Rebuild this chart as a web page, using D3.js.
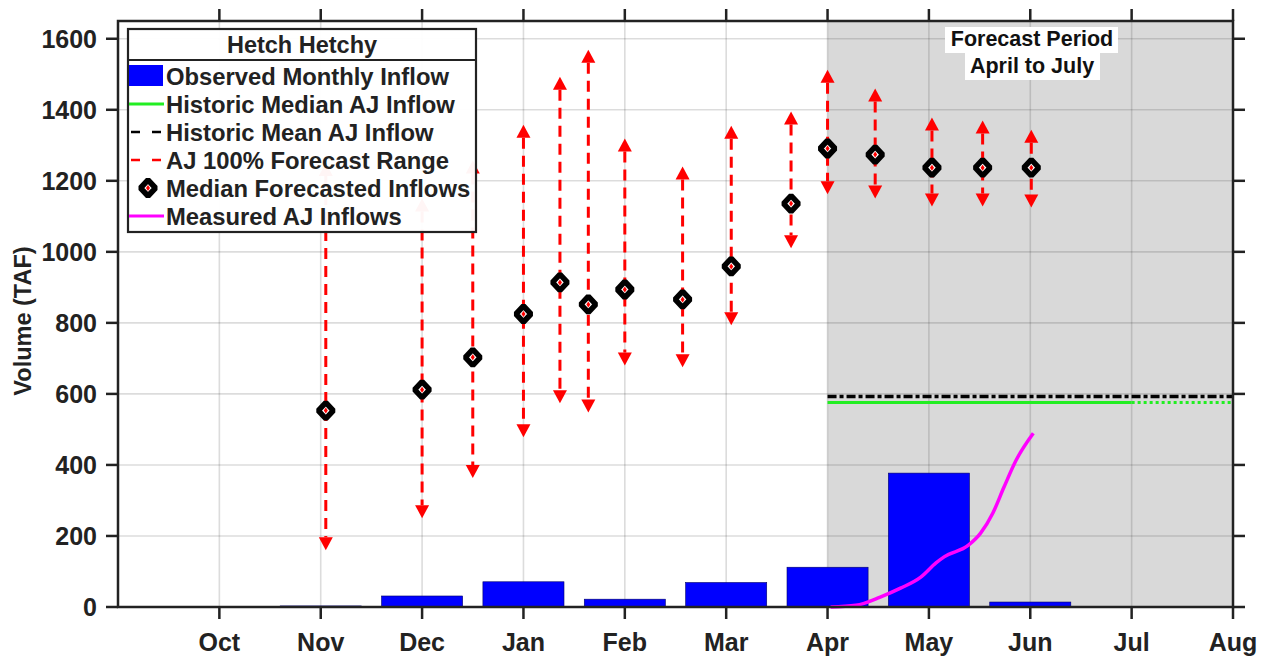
<!DOCTYPE html>
<html>
<head>
<meta charset="utf-8">
<script src="https://cdn.jsdelivr.net/npm/d3@7/dist/d3.min.js"></script>
<style>
  html, body { margin: 0; padding: 0; background: #fff; }
  svg { display: block; font-family: "Liberation Sans", Arial, sans-serif; font-weight: bold; }
</style>
</head>
<body>
<svg id="chart" width="1270" height="662"></svg>
<script>
// ---- Data ----
// month axis: 0 = Sep 1, 1 = Oct 1, ... 11 = Aug 1
const monthLabels = ["Oct","Nov","Dec","Jan","Feb","Mar","Apr","May","Jun","Jul","Aug"];
const yTicks = [0,200,400,600,800,1000,1200,1400,1600];

const barMonths = ["Oct","Nov","Dec","Jan","Feb","Mar","Apr","May","Jun"];
const observedInflow = [0, 3, 31, 71, 22, 69, 112, 377, 14];

// forecast issue time in months since Sep 1
const fcTime   = [2.05, 3.0, 3.5, 4.0, 4.36, 4.64, 5.0, 5.57, 6.05, 6.64, 7.0, 7.47, 8.03, 8.53, 9.01];
const fcMedian = [553, 612, 703, 825, 914, 852, 894, 866, 959, 1136, 1291, 1274, 1237, 1237, 1237];
const fcHigh   = [1250, 1150, 1257, 1358, 1493, 1569, 1319, 1240, 1355, 1395, 1513, 1460, 1378, 1370, 1344];
const fcLow    = [160, 250, 363, 478, 574, 548, 680, 675, 793, 1010, 1162, 1150, 1128, 1128, 1125];

const measuredTime = [7.03, 7.28, 7.52, 7.72, 7.92, 8.07, 8.15, 8.39, 8.51, 8.63, 8.74, 8.86, 9.03];
const measuredAJ   = [0, 5, 28, 53, 84, 124, 141, 174, 208, 264, 337, 413, 489];

const histMedian = 576;
const histMean = 593;
const forecastStart = 7;   // Apr
const forecastEnd = 11;    // Aug
const medianSolidEnd = 10; // Jul

const legendTitle = "Hetch Hetchy";
const legendItems = ["Observed Monthly Inflow","Historic Median AJ Inflow","Historic Mean AJ Inflow","AJ 100% Forecast Range","Median Forecasted Inflows","Measured AJ Inflows"];

// ---- Layout ----
const L = 118, R = 1233, T = 21, B = 607;
const svg = d3.select("#chart");
const x = d3.scaleLinear().domain([0, 11]).range([L, R]);
const y = d3.scaleLinear().domain([0, 1650]).range([B, T]);
const ink = "#222";
const monthIndex = m => monthLabels.indexOf(m) + 1;

// shaded forecast period
svg.append("rect")
  .attr("x", x(forecastStart)).attr("y", T)
  .attr("width", x(forecastEnd) - x(forecastStart)).attr("height", B - T)
  .attr("fill", "#d9d9d9");

// grid
const grid = svg.append("g").attr("stroke", "#262626").attr("stroke-opacity", 0.16).attr("stroke-width", 1.6);
grid.selectAll("line.gy").data(yTicks.slice(1)).join("line")
  .attr("x1", L).attr("x2", R).attr("y1", d => y(d)).attr("y2", d => y(d));
grid.selectAll("line.gx").data(monthLabels.slice(0, -1)).join("line")
  .attr("x1", d => x(monthIndex(d))).attr("x2", d => x(monthIndex(d)))
  .attr("y1", T).attr("y2", B);

// bars
const bw = x(0.8) - x(0);
svg.append("g").selectAll("rect").data(barMonths).join("rect")
  .attr("x", (d) => x(monthIndex(d)) - bw / 2)
  .attr("width", bw)
  .attr("y", (d, i) => y(observedInflow[i]))
  .attr("height", (d, i) => y(0) - y(observedInflow[i]))
  .attr("fill", "#0000ff").attr("stroke", "#00006a").attr("stroke-width", 0.6);

// historic mean (black dash-dot) and median (green)
svg.append("line")
  .attr("x1", x(forecastStart)).attr("x2", x(forecastEnd))
  .attr("y1", y(histMean)).attr("y2", y(histMean))
  .attr("stroke", "#000").attr("stroke-width", 3.5).attr("stroke-dasharray", "9,3,4,3");
svg.append("line")
  .attr("x1", x(forecastStart)).attr("x2", x(medianSolidEnd))
  .attr("y1", y(histMedian)).attr("y2", y(histMedian))
  .attr("stroke", "#22ee22").attr("stroke-width", 3);
svg.append("line")
  .attr("x1", x(medianSolidEnd)).attr("x2", x(forecastEnd))
  .attr("y1", y(histMedian)).attr("y2", y(histMedian))
  .attr("stroke", "#22ee22").attr("stroke-width", 3).attr("stroke-dasharray", "3,3");

// measured AJ inflows
svg.append("path")
  .datum(measuredTime.map((t, i) => [t, measuredAJ[i]]))
  .attr("d", d3.line().x(d => x(d[0])).y(d => y(d[1])).curve(d3.curveMonotoneX))
  .attr("fill", "none").attr("stroke", "#ff00ff").attr("stroke-width", 3.5);

// forecast ranges
const head = 13, hw = 7;
const fg = svg.append("g");
fcTime.forEach((t, i) => {
  const cx = x(t);
  const yh = y(fcHigh[i]), yl = y(fcLow[i]);
  fg.append("line")
    .attr("x1", cx).attr("x2", cx).attr("y1", yh + head).attr("y2", yl - head)
    .attr("stroke", "#ff0000").attr("stroke-width", 3).attr("stroke-dasharray", "11,7");
  fg.append("path")
    .attr("d", `M${cx},${yh} L${cx - hw},${yh + head} L${cx + hw},${yh + head} Z`)
    .attr("fill", "#ff0000");
  fg.append("path")
    .attr("d", `M${cx},${yl} L${cx - hw},${yl - head} L${cx + hw},${yl - head} Z`)
    .attr("fill", "#ff0000");
});

// median markers
function marker(g, cx, cy) {
  g.append("path")
    .attr("d", `M${cx},${cy - 8} L${cx + 7.5},${cy} L${cx},${cy + 8} L${cx - 7.5},${cy} Z`)
    .attr("fill", "#fff").attr("stroke", "#000").attr("stroke-width", 5.5).attr("stroke-linejoin", "bevel");
  g.append("path")
    .attr("d", `M${cx},${cy - 3} L${cx + 2},${cy} L${cx},${cy + 3} L${cx - 2},${cy} Z`)
    .attr("fill", "#ff0000");
}
const mg = svg.append("g");
fcTime.forEach((t, i) => marker(mg, x(t), y(fcMedian[i])));

// axes box and ticks
const ax = svg.append("g").attr("stroke", ink).attr("stroke-width", 2.5);
ax.append("rect").attr("x", L).attr("y", T).attr("width", R - L).attr("height", B - T).attr("fill", "none");
yTicks.forEach(v => {
  ax.append("line").attr("x1", L - 12).attr("x2", L).attr("y1", y(v)).attr("y2", y(v));
  ax.append("line").attr("x1", R).attr("x2", R + 12).attr("y1", y(v)).attr("y2", y(v));
});
monthLabels.forEach(m => {
  const px = x(monthIndex(m));
  ax.append("line").attr("x1", px).attr("x2", px).attr("y1", B).attr("y2", B + 12);
  ax.append("line").attr("x1", px).attr("x2", px).attr("y1", T - 12).attr("y2", T);
});
svg.append("g").selectAll("text").data(yTicks).join("text")
  .attr("x", L - 21).attr("y", d => y(d)).attr("dy", "0.35em")
  .attr("text-anchor", "end").attr("font-size", 25).attr("fill", ink).text(d => d);
svg.append("g").selectAll("text").data(monthLabels).join("text")
  .attr("x", d => x(monthIndex(d))).attr("y", 651)
  .attr("text-anchor", "middle").attr("font-size", 25).attr("fill", ink).text(d => d);
svg.append("text")
  .attr("transform", "translate(31,321) rotate(-90)")
  .attr("text-anchor", "middle").attr("font-size", 23.5).attr("fill", ink).text("Volume (TAF)");

// forecast period annotation
const ann = svg.append("g");
ann.append("rect").attr("x", 945).attr("y", 27).attr("width", 173).attr("height", 26).attr("fill", "#fff");
ann.append("rect").attr("x", 965).attr("y", 52).attr("width", 135).attr("height", 28).attr("fill", "#fff");
ann.append("text").attr("x", 1032).attr("y", 46).attr("text-anchor", "middle").attr("font-size", 21.5).attr("fill", "#111").text("Forecast Period");
ann.append("text").attr("x", 1032).attr("y", 73).attr("text-anchor", "middle").attr("font-size", 21.5).attr("fill", "#111").text("April to July");

// legend
const lg = svg.append("g");
const lx = 128, ly = 29, lw = 348, lh = 203;
lg.append("rect").attr("x", lx).attr("y", ly).attr("width", lw).attr("height", lh)
  .attr("fill", "#fff").attr("fill-opacity", 0.96).attr("stroke", ink).attr("stroke-width", 2.2);
lg.append("line").attr("x1", lx).attr("x2", lx + lw).attr("y1", 60).attr("y2", 60).attr("stroke", ink).attr("stroke-width", 2);
lg.append("text").attr("x", 302).attr("y", 53).attr("text-anchor", "middle")
  .attr("font-size", 23.5).attr("fill", ink).text(legendTitle);
const rowY = i => 76 + i * 28;
legendItems.forEach((t, i) => {
  lg.append("text").attr("x", 166).attr("y", rowY(i)).attr("dy", "0.36em")
    .attr("font-size", 23.8).attr("fill", ink).text(t);
});
lg.append("rect").attr("x", 129).attr("y", 65).attr("width", 34).attr("height", 21).attr("fill", "#0000ff");
lg.append("line").attr("x1", 129).attr("x2", 164).attr("y1", rowY(1)).attr("y2", rowY(1)).attr("stroke", "#22ee22").attr("stroke-width", 3);
lg.append("line").attr("x1", 131).attr("x2", 164).attr("y1", rowY(2)).attr("y2", rowY(2)).attr("stroke", "#000").attr("stroke-width", 2.5).attr("stroke-dasharray", "9,12");
lg.append("line").attr("x1", 131).attr("x2", 164).attr("y1", rowY(3)).attr("y2", rowY(3)).attr("stroke", "#ff0000").attr("stroke-width", 2.5).attr("stroke-dasharray", "9,12");
marker(lg, 148, rowY(4));
lg.append("line").attr("x1", 129).attr("x2", 164).attr("y1", rowY(5)).attr("y2", rowY(5)).attr("stroke", "#ff00ff").attr("stroke-width", 3);
</script>
</body>
</html>
